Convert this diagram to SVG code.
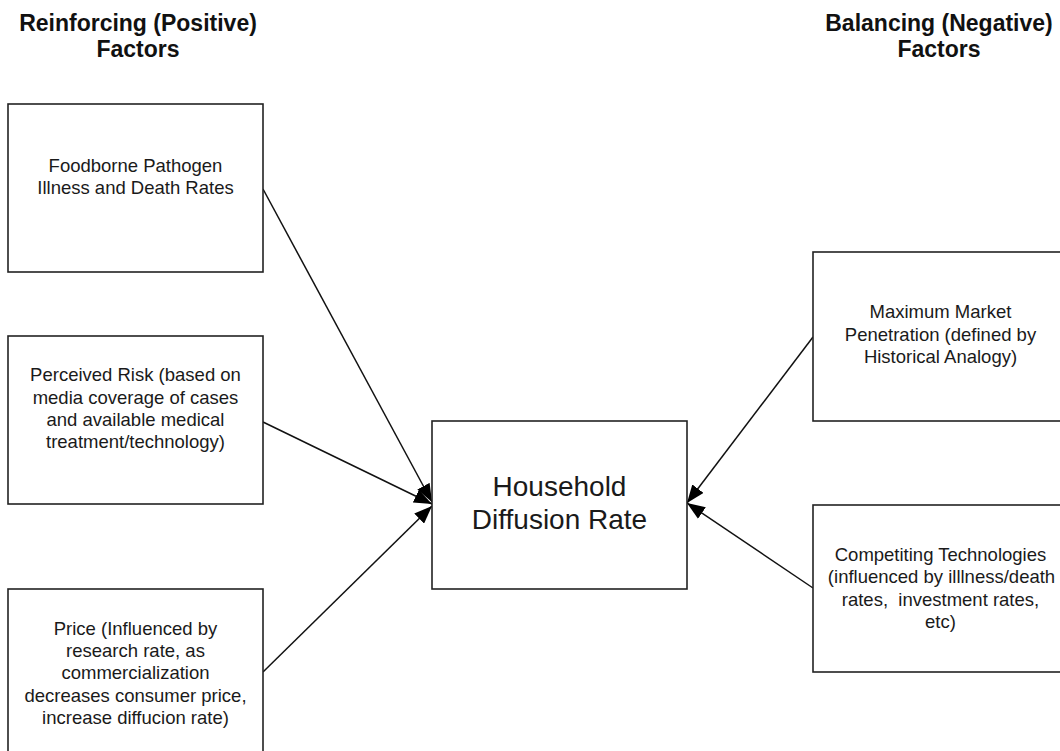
<svg xmlns="http://www.w3.org/2000/svg" width="1060" height="751" viewBox="0 0 1060 751">
<style>
.box{fill:#fff;stroke:#222;stroke-width:1.6}
.t{font-family:"Liberation Sans",Arial,Helvetica,sans-serif;font-size:18.5px;fill:#1a1a1a;text-anchor:middle}
.big{font-size:28px}
.h{font-family:"Liberation Sans",Arial,Helvetica,sans-serif;font-size:23px;font-weight:bold;fill:#111;text-anchor:middle}
.c{stroke:#111;stroke-width:1.5;fill:none;marker-end:url(#ah)}
</style>
<defs>
<marker id="ah" markerUnits="userSpaceOnUse" markerWidth="20" markerHeight="14" refX="18" refY="7" orient="auto">
<path d="M0,0 L18,7 L0,14 Z" fill="#000"/>
</marker>
</defs>
<rect width="1060" height="751" fill="#fff"/>
<g id="header-left">
<text class="h" x="138" y="31">Reinforcing (Positive)</text>
<text class="h" x="138" y="57">Factors</text>
</g>
<g id="header-right">
<text class="h" x="939" y="31">Balancing (Negative)</text>
<text class="h" x="939" y="57">Factors</text>
</g>
<g id="connectors">
<line class="c" x1="263" y1="189" x2="432" y2="502"/>
<line class="c" x1="263" y1="422" x2="432" y2="504"/>
<line class="c" x1="263" y1="672" x2="432" y2="506"/>
<line class="c" x1="813" y1="337" x2="687" y2="503"/>
<line class="c" x1="813" y1="588" x2="687" y2="503"/>
</g>
<g id="foodborne">
<rect class="box" x="8" y="104" width="255" height="168"/>
<text class="t" x="135.5" y="172">Foodborne Pathogen</text>
<text class="t" x="135.5" y="194">Illness and Death Rates</text>
</g>
<g id="perceived-risk">
<rect class="box" x="8" y="336" width="255" height="168"/>
<text class="t" x="135.5" y="381">Perceived Risk (based on</text>
<text class="t" x="135.5" y="403.5">media coverage of cases</text>
<text class="t" x="135.5" y="426">and available medical</text>
<text class="t" x="135.5" y="448">treatment/technology)</text>
</g>
<g id="price">
<rect class="box" x="8" y="589" width="255" height="180"/>
<text class="t" x="135.5" y="635">Price (Influenced by</text>
<text class="t" x="135.5" y="657">research rate, as</text>
<text class="t" x="135.5" y="679">commercialization</text>
<text class="t" x="135.5" y="701.5">decreases consumer price,</text>
<text class="t" x="135.5" y="723.5">increase diffucion rate)</text>
</g>
<g id="household">
<rect class="box" x="432" y="421" width="255" height="168"/>
<text class="t big" x="559.5" y="496">Household</text>
<text class="t big" x="559.5" y="529">Diffusion Rate</text>
</g>
<g id="max-market">
<rect class="box" x="813" y="252" width="270" height="169"/>
<text class="t" x="940.5" y="318">Maximum Market</text>
<text class="t" x="940.5" y="341">Penetration (defined by</text>
<text class="t" x="940.5" y="363">Historical Analogy)</text>
</g>
<g id="competing">
<rect class="box" x="813" y="505" width="270" height="167"/>
<text class="t" x="940.5" y="561">Competiting Technologies</text>
<text class="t" x="941.5" y="583">(influenced by illlness/death</text>
<text class="t" x="940.5" y="605.5" xml:space="preserve">rates,  investment rates,</text>
<text class="t" x="940.5" y="628">etc)</text>
</g>
</svg>
